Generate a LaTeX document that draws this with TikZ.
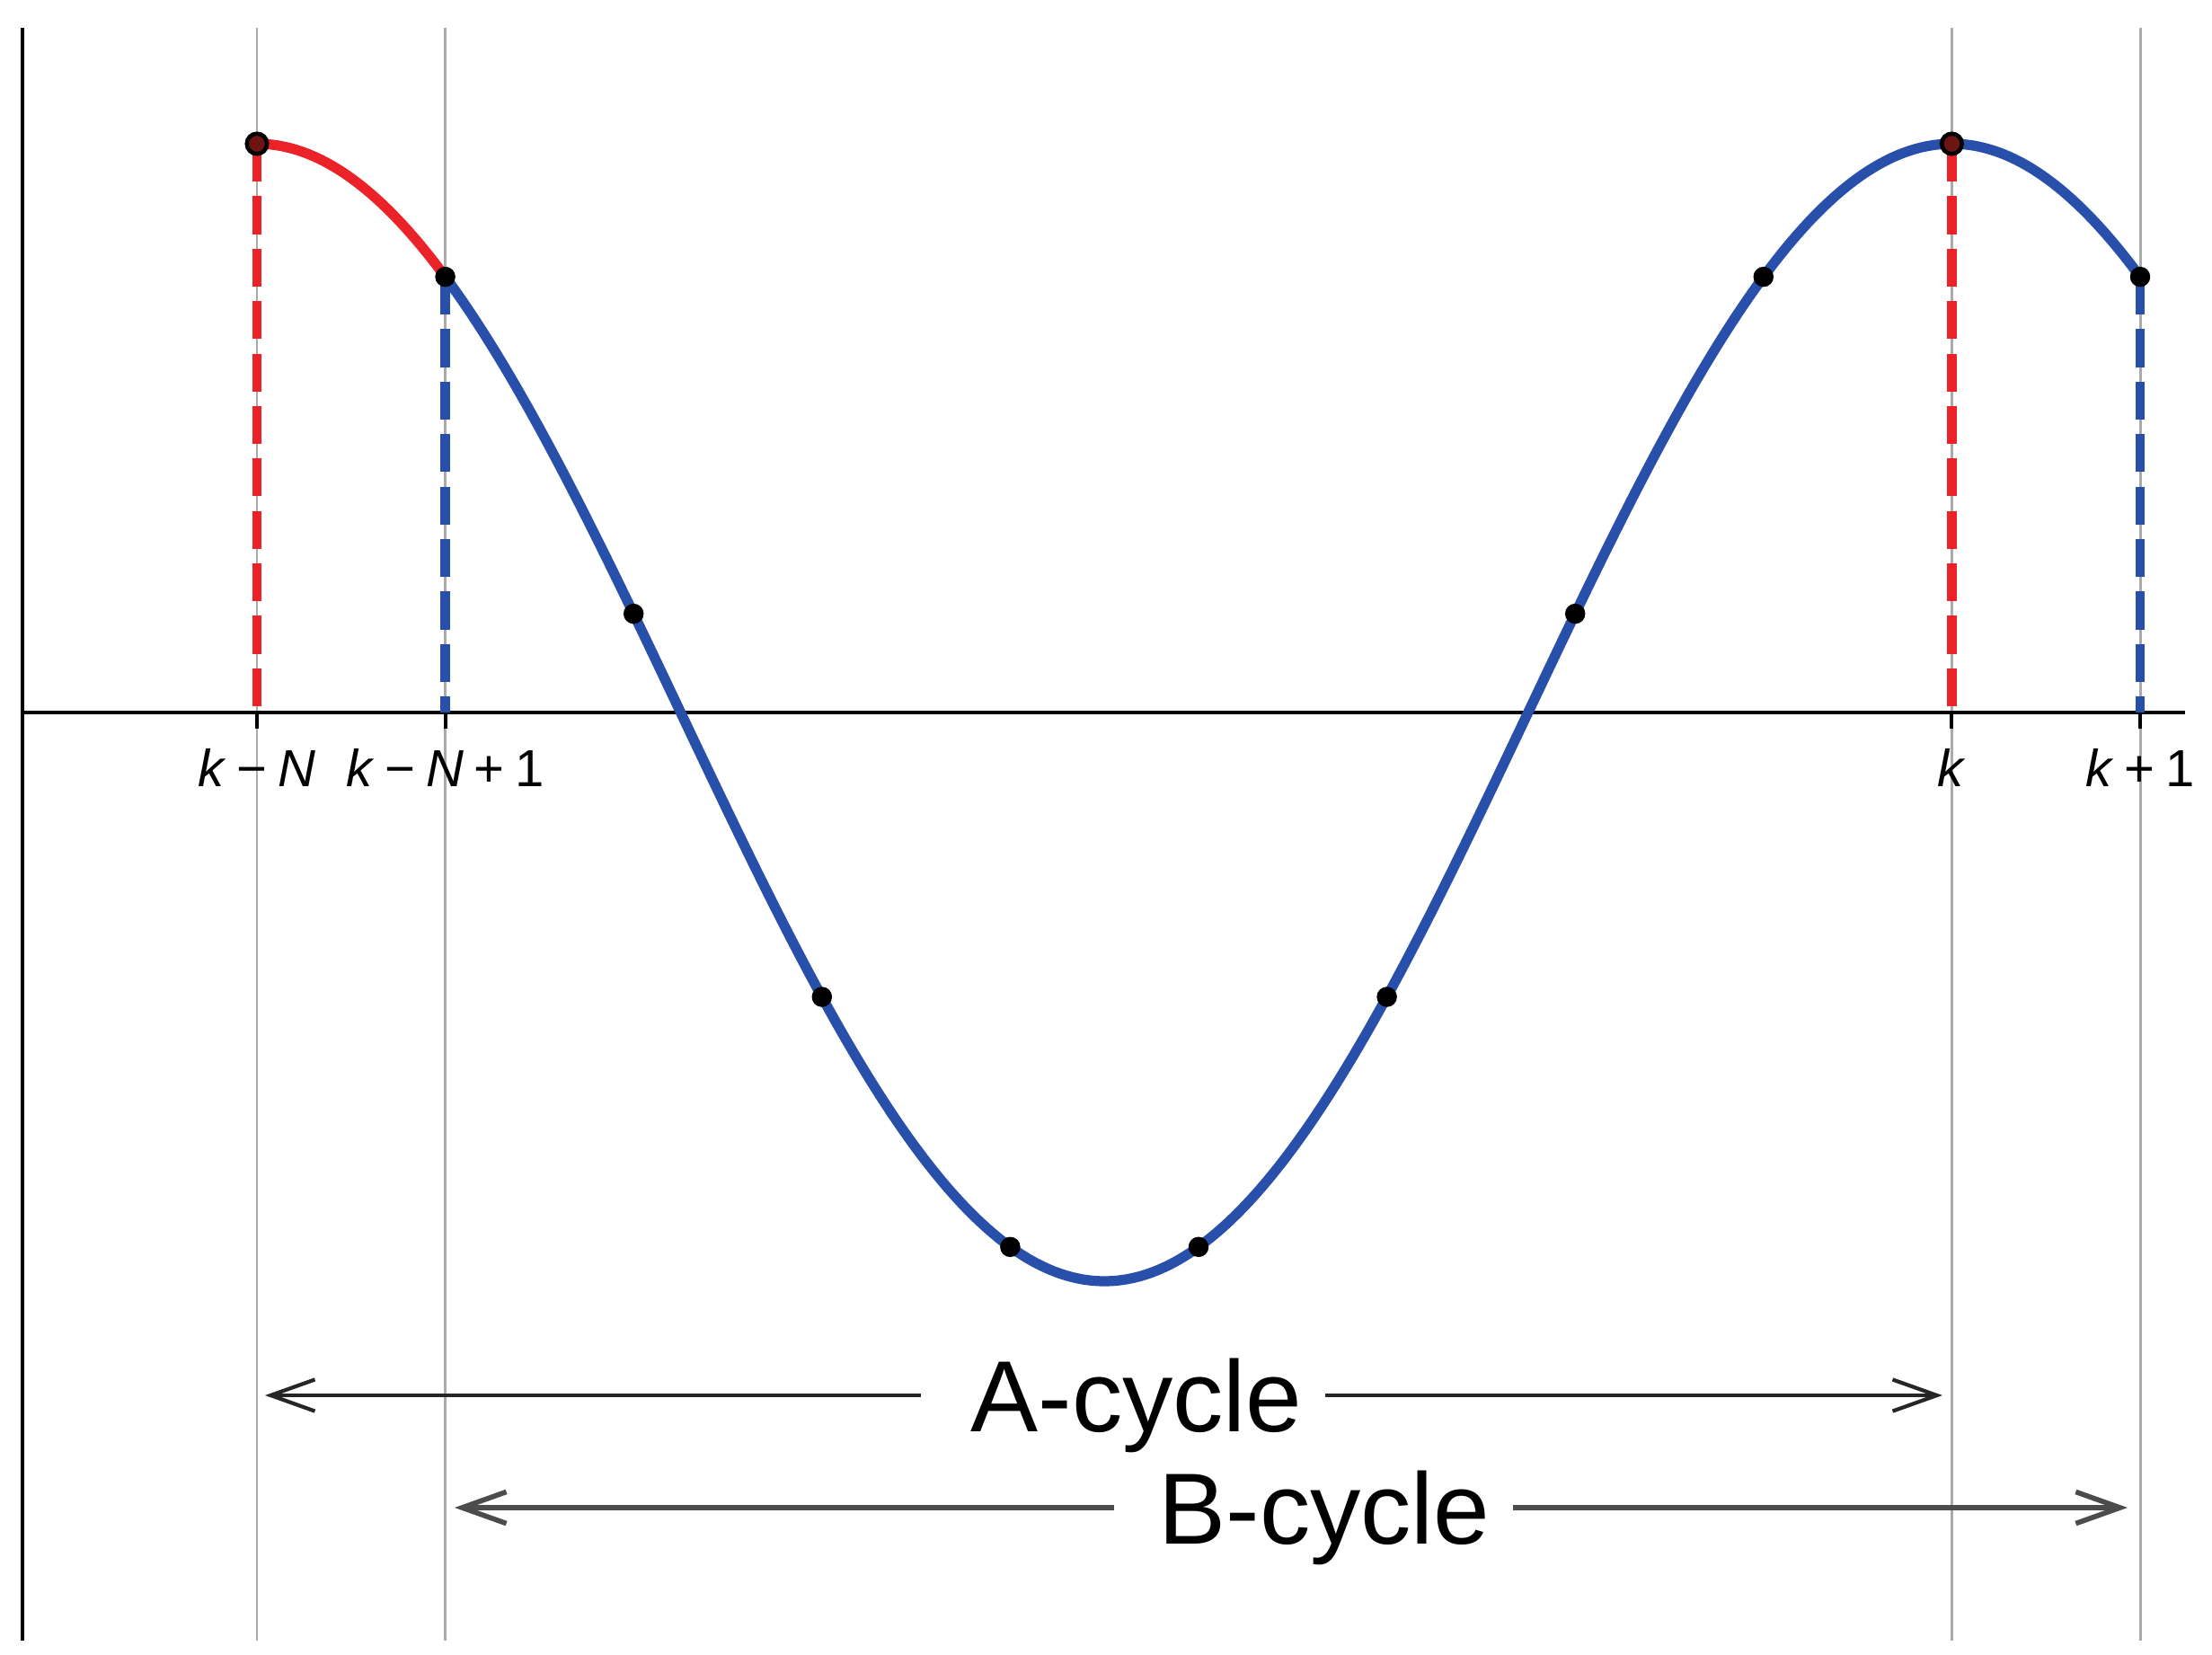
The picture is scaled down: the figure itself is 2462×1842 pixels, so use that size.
\documentclass[tikz,border=0pt]{standalone}
\usepackage{fontspec}
\setmainfont{Liberation Sans}
\usetikzlibrary{arrows.meta}
\definecolor{cblue}{RGB}{40,80,170}
\definecolor{cred}{RGB}{235,35,40}
\definecolor{cgrid}{RGB}{170,170,170}
\definecolor{cdot}{RGB}{110,20,20}
\tikzset{
  gridline/.style={cgrid, line width=0.85pt},
  axisline/.style={black, line width=1.1pt},
  tickline/.style={black, line width=1.1pt},
  reddash/.style={cred, line width=3pt, dash pattern=on 12pt off 4.6pt},
  bluedash/.style={cblue, line width=3pt, dash pattern=on 12pt off 4.6pt},
  curveblue/.style={cblue, line width=3.2pt},
  curvered/.style={cred, line width=3.2pt},
  sample/.style={circle, fill=black, inner sep=0pt, minimum size=6.4pt},
  samplering/.style={circle, fill=cdot, draw=black, line width=1.3pt, inner sep=0pt, minimum size=6.4pt},
  ticklabel/.style={anchor=base, font=\fontsize{16.5}{18}\selectfont, inner sep=0pt},
  cyclabel/.style={anchor=base, font=\fontsize{32}{36}\selectfont, inner xsep=7pt, inner ysep=0pt},
  arrA/.style={-{Straight Barb[length=14pt,width=10pt]}, line width=1.2pt, black!85},
  arrB/.style={-{Straight Barb[length=14pt,width=10pt]}, line width=1.6pt, black!70},
}
\begin{document}
\begin{tikzpicture}[x=0.01cm,y=-0.01cm]
\useasboundingbox (0,0) rectangle (2462,1842);
\fill[white] (0,0) rectangle (2462,1842);
% sample points and axis feet
\foreach \i in {0,...,10}{
  \coordinate (p\i) at ({286+209.6*\i},{793-633*cos(40*\i)});
  \coordinate (a\i) at ({286+209.6*\i},793);
}
% grid lines
\foreach \i in {0,1,9,10}{
  \coordinate (gt\i) at ({286+209.6*\i},31);
  \coordinate (gb\i) at ({286+209.6*\i},1826);
  \draw[gridline] (gt\i) -- (gb\i);
}
% axes
\coordinate (vt) at (25,31);
\coordinate (vb) at (25,1826);
\coordinate (hl) at (25,793);
\coordinate (hr) at (2432,793);
\draw[axisline] (vt) -- (vb);
\draw[axisline] (hl) -- (hr);
% ticks
\foreach \i in {0,1,9,10}{
  \coordinate (tk\i) at ({286+209.6*\i},811);
  \draw[tickline] (a\i) -- (tk\i);
}
% tick labels
\node[ticklabel] (l0) at ({286},875) {\textit{k}\hspace{0.2em}−\hspace{0.2em}\textit{N}};
\node[ticklabel] (l1) at ({286+209.6},875) {\textit{k}\hspace{0.2em}−\hspace{0.2em}\textit{N}\hspace{0.2em}+\hspace{0.2em}1};
\node[ticklabel] (l9) at ({286+9*209.6},875) {\textit{k}};
\node[ticklabel] (l10) at ({286+10*209.6},875) {\textit{k}\hspace{0.2em}+\hspace{0.2em}1};
% dashed verticals
\draw[reddash] (p0) -- (a0);
\draw[reddash] (p9) -- (a9);
\draw[bluedash] (p1) -- (a1);
\draw[bluedash] (p10) -- (a10);
% curves
\draw[curvered, line cap=round] plot[domain=0:1, samples=40, smooth] ({286+209.6*\x},{793-633*cos(40*\x)});
\draw[curveblue, line cap=round] plot[domain=1:10, samples=300, smooth] ({286+209.6*\x},{793-633*cos(40*\x)});
% dots
\foreach \i in {1,...,8,10}{
  \node[sample] (d\i) at (p\i) {};
}
\node[samplering] (d0) at (p0) {};
\node[samplering] (d9) at (p9) {};
% cycle arrows
\coordinate (AL) at (295,1553);
\coordinate (AR) at (2162,1553);
\node[cyclabel] (A) at (1265,1593) {A-cycle};
\draw[arrA] ([xshift=-8.5pt]A.west |- AL) -- (AL);
\draw[arrA] (A.east |- AR) -- (AR);
\coordinate (BL) at (506,1678);
\coordinate (BR) at (2368,1678);
\node[cyclabel] (B) at (1474,1718) {B-cycle};
\draw[arrB] ([xshift=-7pt]B.west |- BL) -- (BL);
\draw[arrB] (B.east |- BR) -- (BR);
\end{tikzpicture}
\end{document}
